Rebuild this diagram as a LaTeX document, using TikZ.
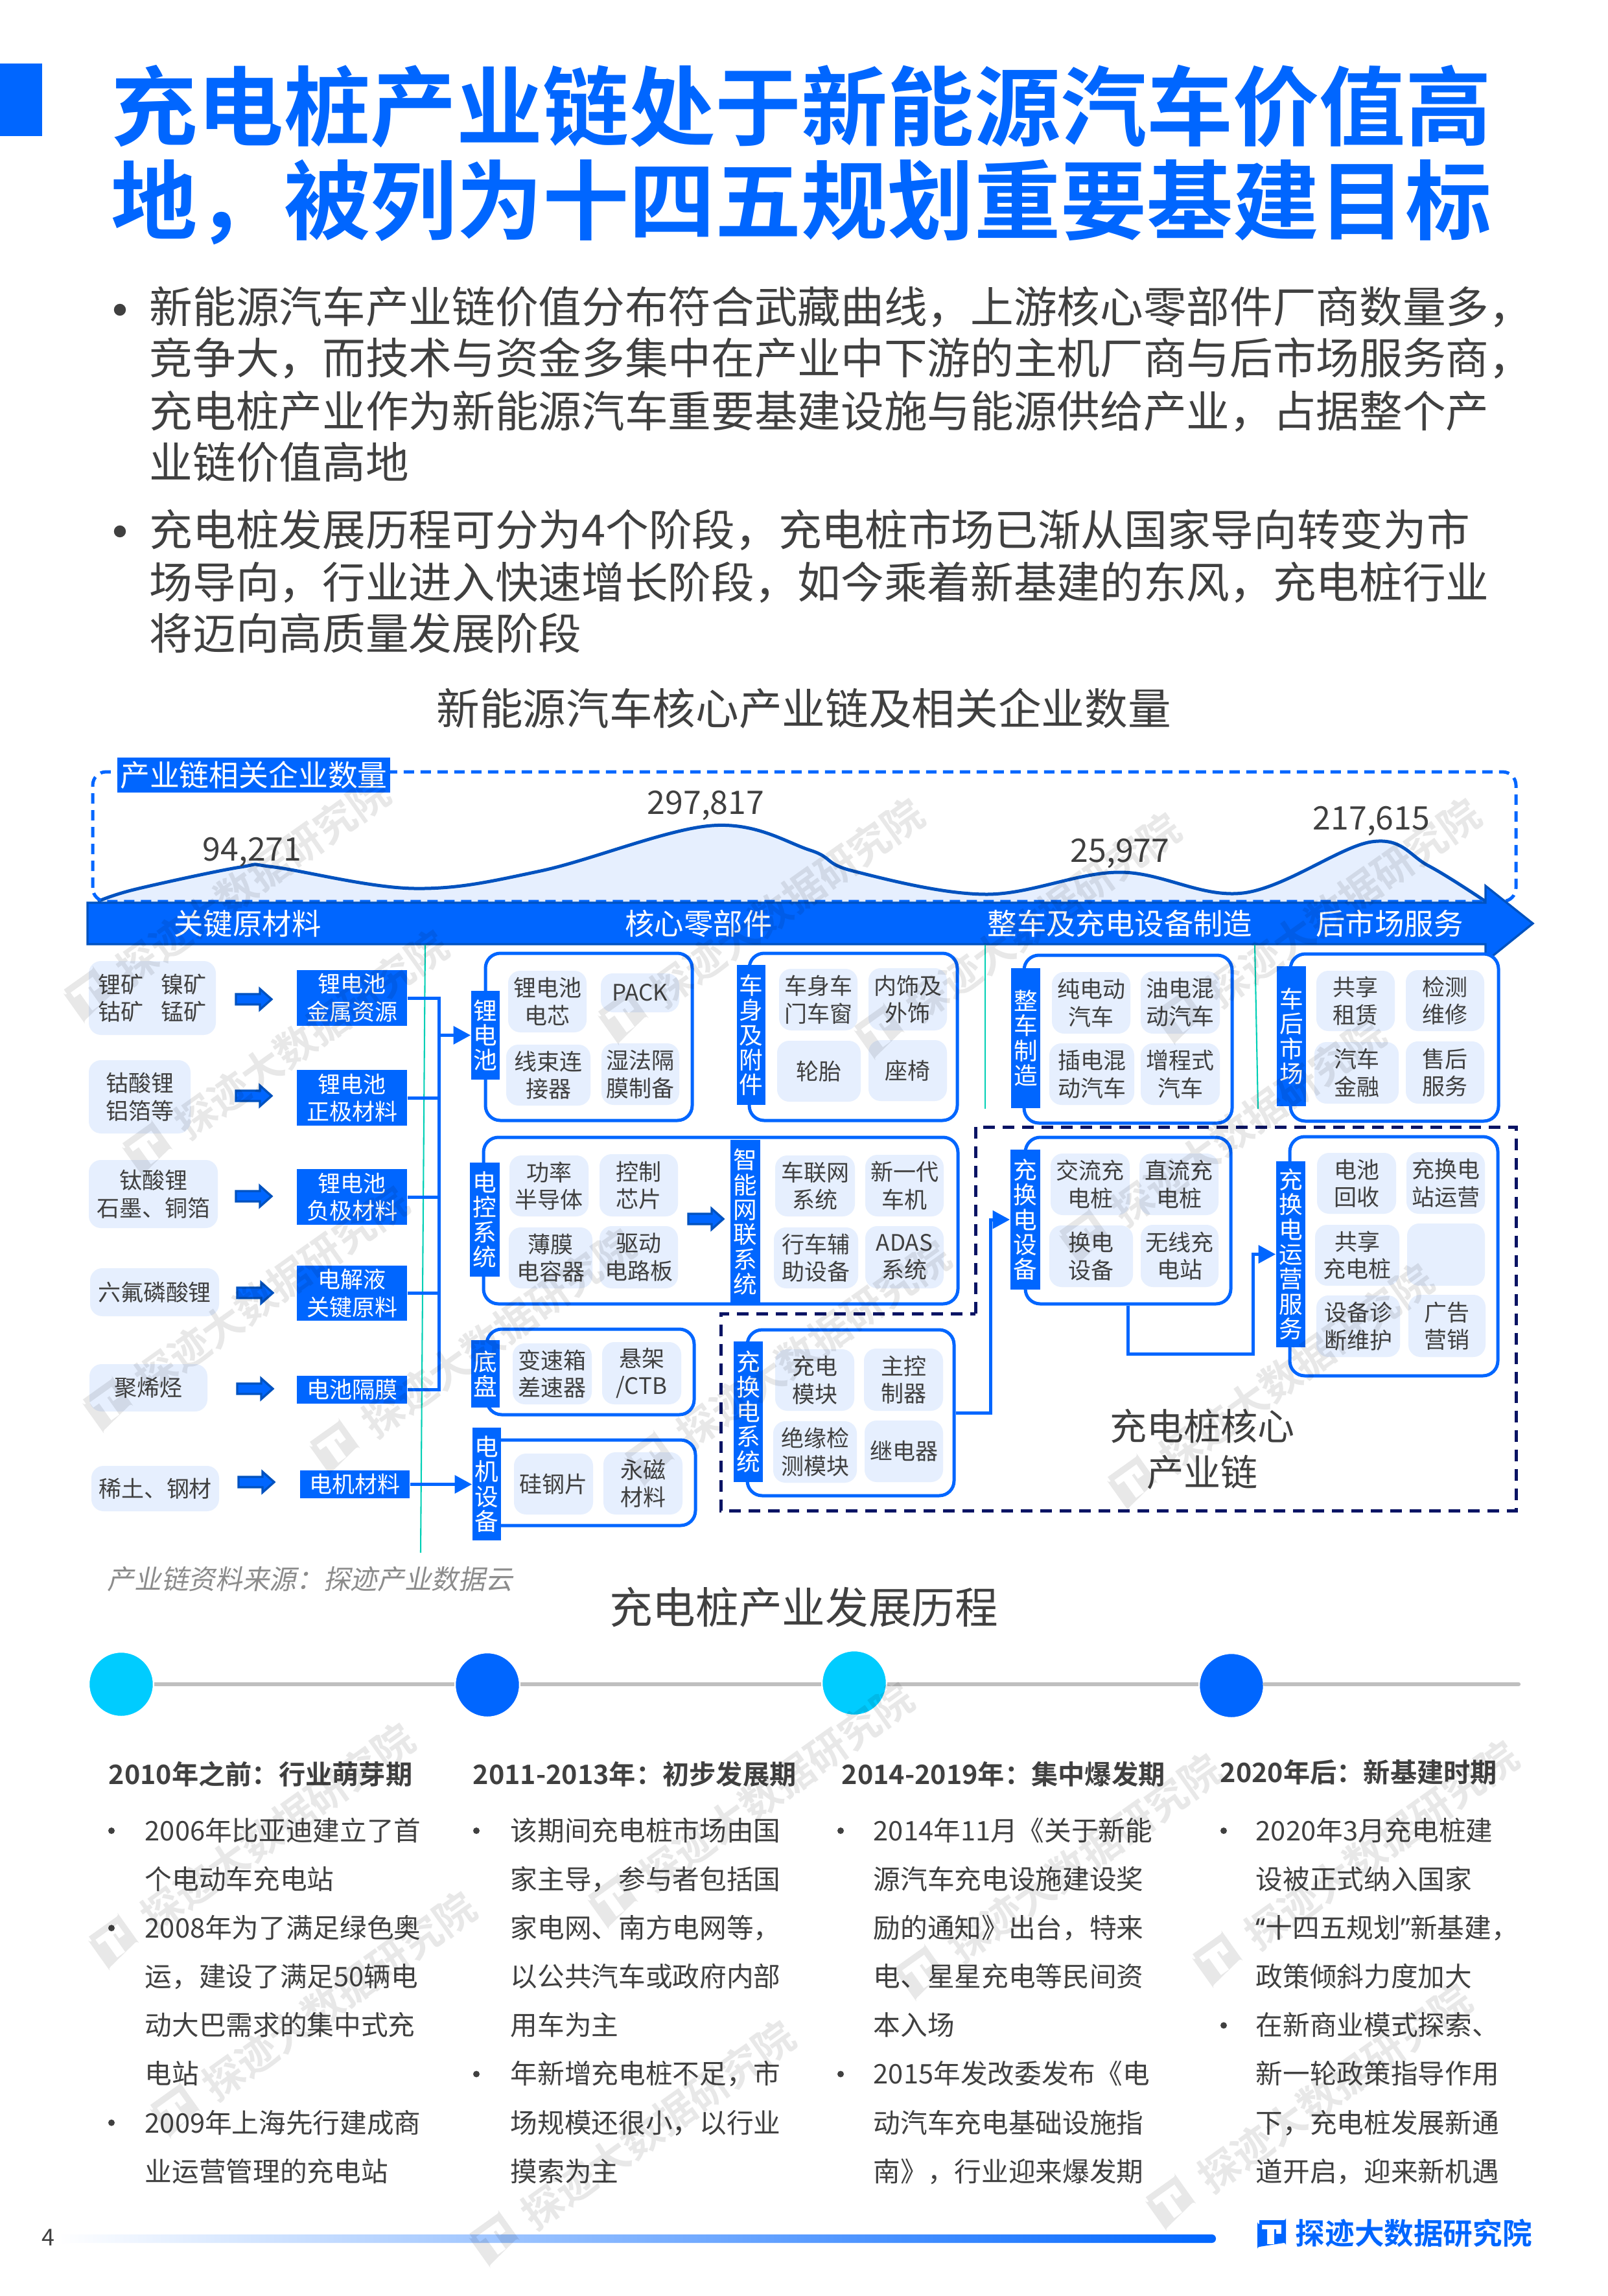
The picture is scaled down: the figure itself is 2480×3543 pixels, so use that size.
\documentclass[tikz,border=0pt]{standalone}
\usepackage{fontspec}
\setmainfont{Noto Sans CJK SC}[BoldFont={Noto Sans CJK SC Bold}]
\newfontfamily\slantfont[FakeSlant=0.2]{Noto Sans CJK SC}
\newfontfamily\latinq{Noto Sans}
\usetikzlibrary{arrows.meta,calc}
\definecolor{blueA}{HTML}{0066FF}
\definecolor{blueD}{HTML}{0052BF}
\definecolor{lightb}{HTML}{E6EFFE}
\definecolor{txt}{HTML}{404040}
\definecolor{navy}{HTML}{0A1464}
\definecolor{tealc}{HTML}{00CFB5}
\definecolor{cyanc}{HTML}{00CCFF}
\tikzset{
 titlet/.style={font=\fontsize{31.95}{36}\selectfont\bfseries,text=blueA,anchor=base west,inner sep=0pt,yshift=-11.7pt},
 bodyt/.style={font=\fontsize{16}{18}\selectfont,text=txt,anchor=base west,inner sep=0pt,yshift=-5.8pt},
 secth/.style={font=\fontsize{16}{18}\selectfont,text=txt,inner sep=0pt},
 numt/.style={font=\fontsize{12}{14}\selectfont,text=txt,inner sep=0pt},
 arrowt/.style={font=\fontsize{10.9}{13}\selectfont,text=white,inner sep=0pt},
 lbox/.style={fill=lightb,rounded corners=4.5pt,font=\fontsize{8.4}{10.2}\selectfont,text=txt,align=center,inner sep=0pt},
 bbox/.style={fill=blueA,font=\fontsize{8.4}{10.2}\selectfont,text=white,align=center,inner sep=0pt},
 grp/.style={draw=blueA,line width=1.2pt,fill=white,rounded corners=5.5pt,inner sep=0pt},
 vlab/.style={fill=blueA,font=\fontsize{8.8}{9.2}\selectfont,text=white,align=center,inner sep=0pt},
 conn/.style={draw=blueA,line width=1.2pt},
 connar/.style={conn,-{Triangle[length=6.4pt,width=6.6pt]}},
 blockar/.style={fill=blueA,draw=blueD,line width=0.8pt,line join=miter},
 colh/.style={font=\fontsize{9.9}{12}\selectfont\bfseries,text=txt,anchor=base west,inner sep=0pt,yshift=-3.7pt},
 colt/.style={font=\fontsize{10}{12}\selectfont,text=txt,anchor=base west,inner sep=0pt,yshift=-3.7pt},
 dotb/.style={circle,fill=txt,inner sep=0pt,minimum size=2.4pt},
 tdot/.style={circle,inner sep=0pt,minimum size=24pt,draw=white,line width=0.6pt},
 wmtext/.style={font=\fontsize{15}{16}\selectfont\bfseries,text=black,text opacity=0.09,anchor=east,inner sep=0pt,transform shape},
}
\newcommand\bx[7]{\node[#1,minimum width={(#4-#3)*0.24pt},minimum height={(#6-#5)*0.24pt}] (#2) at ({(#3+#4)/2},{(#5+#6)/2}) {#7};}
\newcommand\barrow[3]{\draw[blockar] (#1,{#3-8}) -- ({#2-18},{#3-8}) -- ({#2-18},{#3-16}) -- (#2,#3) -- ({#2-18},{#3+16}) -- ({#2-18},{#3+8}) -- (#1,{#3+8}) -- cycle;}
% logo: width 44, height 41 units
\newcommand\logoshape{(3,0) -- (41,0) arc[start angle=90,end angle=0,radius=3] -- (44,38) arc[start angle=0,end angle=-90,radius=3] -- (3,41) arc[start angle=270,end angle=180,radius=3] -- (0,3) arc[start angle=180,end angle=90,radius=3] -- cycle
 (7,7) -- (37,7) -- (37,21) -- (29,21) -- (29,14) -- (26,14) -- (26,37) -- (15,37) -- (15,14) -- (7,14) -- cycle}
\begin{document}
\begin{tikzpicture}[x=0.24pt,y=-0.24pt]
\useasboundingbox (0,0) rectangle (2480,3543);
\fill[white] (0,0) rectangle (2480,3543);
% header
\fill[blueA] (0,98) rectangle (65,210);
\node[titlet] (t1) at (171,166) {充电桩产业链处于新能源汽车价值高};
\node[titlet] (t2) at (171,311) {地，被列为十四五规划重要基建目标};
\node[circle,fill=txt,inner sep=0pt,minimum size=4.4pt] (bu1) at (185,478) {};
\node[circle,fill=txt,inner sep=0pt,minimum size=4.4pt] (bu2) at (185,820) {};
\node[bodyt] (p1) at (230,474) {新能源汽车产业链价值分布符合武藏曲线，上游核心零部件厂商数量多，};
\node[bodyt] (p2) at (230,553) {竞争大，而技术与资金多集中在产业中下游的主机厂商与后市场服务商，};
\node[bodyt] (p3) at (230,635) {充电桩产业作为新能源汽车重要基建设施与能源供给产业，占据整个产};
\node[bodyt] (p4) at (230,714) {业链价值高地};
\node[bodyt] (p5) at (230,818) {充电桩发展历程可分为4个阶段，充电桩市场已渐从国家导向转变为市};
\node[bodyt] (p6) at (230,899) {场导向，行业进入快速增长阶段，如今乘着新基建的东风，充电桩行业};
\node[bodyt] (p7) at (230,978) {将迈向高质量发展阶段};
\node[secth] (s1) at (1240,1093) {新能源汽车核心产业链及相关企业数量};
% mountain
\fill[lightb] plot[smooth,tension=0.6] coordinates {(151,1391) (210,1372) (371,1338) (423,1338) (639,1371) (834,1344) (1098,1274) (1250,1312) (1316,1344) (1521,1380) (1727,1346) (1918,1378) (2116,1299) (2204,1336) (2292,1391)} -- cycle;
\draw[blueD,line width=1.2pt] plot[smooth,tension=0.6] coordinates {(151,1391) (210,1372) (371,1338) (423,1338) (639,1371) (834,1344) (1098,1274) (1250,1312) (1316,1344) (1521,1380) (1727,1346) (1918,1378) (2116,1299) (2204,1336) (2292,1391)};
\draw[blueA,line width=1.2pt,dash pattern=on 3.84pt off 2.4pt,rounded corners=5pt] (143,1391) rectangle (2339,1191);
% big arrow
\draw[fill=blueA,draw=blueD,line width=0.8pt] (135,1393) -- (2292,1393) -- (2292,1367) -- (2365,1425) -- (2292,1484) -- (2292,1457) -- (135,1457) -- cycle;
\bx{bbox,font=\fontsize{11}{13}\selectfont}{lab0}{181}{602}{1169}{1223}{产业链相关企业数量}
\node[numt] (n1) at (389,1315) {94,271};
\node[numt] (n2) at (1089,1243) {297,817};
\node[numt] (n3) at (1728,1317) {25,977};
\node[numt] (n4) at (2116,1267) {217,615};
\node[arrowt] (a1) at (382,1425) {关键原材料};
\node[arrowt] (a2) at (1078,1425) {核心零部件};
\node[arrowt] (a3) at (1728,1425) {整车及充电设备制造};
\node[arrowt] (a4) at (2144,1425) {后市场服务};
% teal lines
\draw[tealc,line width=0.5pt] (656,1458) -- (649,2396);
\draw[tealc,line width=0.5pt] (1520,1458) -- (1520,1711);
\draw[tealc,line width=0.5pt] (1936,1458) -- (1941,1711);
% dashed navy
\draw[navy,line width=1.2pt,dash pattern=on 4.32pt off 2.88pt] (1505,2027) -- (1505,1739) -- (2339,1739) -- (2339,2331) -- (1112,2331) -- (1112,2027) -- cycle;
% left column
\bx{lbox}{m1}{137}{333}{1483}{1597}{锂矿\hspace{6.5pt}镍矿\\钴矿\hspace{6.5pt}锰矿}
\bx{lbox}{m2}{137}{294}{1636}{1749}{钴酸锂\\铝箔等}
\bx{lbox}{m3}{137}{336}{1790}{1895}{钛酸锂\\石墨、铜箔}
\bx{lbox}{m4}{139}{338}{1957}{2031}{六氟磷酸锂}
\bx{lbox}{m5}{138}{320}{2105}{2178}{聚烯烃}
\bx{lbox}{m6}{141}{338}{2262}{2332}{稀土、钢材}
\barrow{364}{419}{1542}
\barrow{364}{419}{1691}
\barrow{364}{419}{1846}
\barrow{366}{421}{1995}
\barrow{366}{421}{2143}
\barrow{368}{423}{2287}
\bx{bbox}{b1}{458}{628}{1497}{1583}{锂电池\\金属资源}
\bx{bbox}{b2}{458}{628}{1651}{1737}{锂电池\\正极材料}
\bx{bbox}{b3}{458}{628}{1804}{1890}{锂电池\\负极材料}
\bx{bbox}{b4}{458}{628}{1953}{2038}{电解液\\关键原料}
\bx{bbox}{b5}{458}{628}{2123}{2166}{电池隔膜}
\bx{bbox}{b6}{463}{632}{2269}{2312}{电机材料}
% groups
\bx{grp}{g1}{749}{1068}{1471}{1729}{}
\bx{grp}{g2}{1156}{1477}{1471}{1729}{}
\bx{grp}{g3}{1580}{1901}{1474}{1733}{}
\bx{grp}{g4}{1991}{2312}{1472}{1730}{}
\bx{grp}{g5}{746}{1478}{1755}{2012}{}
\bx{grp}{g6}{751}{1071}{2051}{2183}{}
\bx{grp}{g7}{745}{1073}{2222}{2354}{}
\bx{grp}{g8}{1153}{1472}{2052}{2308}{}
\bx{grp}{g9}{1582}{1899}{1755}{2012}{}
\bx{grp}{g10}{1990}{2311}{1754}{2123}{}
% vertical labels
\bx{vlab}{lbat}{727}{771}{1529}{1666}{锂\\电\\池}
\bx{vlab}{lbody}{1137}{1181}{1489}{1705}{车\\身\\及\\附\\件}
\bx{vlab}{lveh}{1560}{1605}{1494}{1710}{整\\车\\制\\造}
\bx{vlab}{lafter}{1970}{2015}{1491}{1707}{车\\后\\市\\场}
\bx{vlab}{lctrl}{725}{771}{1794}{1970}{电\\控\\系\\统}
\bx{vlab}{lsmart}{1127}{1173}{1759}{2012}{智\\能\\网\\联\\系\\统}
\bx{vlab}{lchas}{727}{771}{2068}{2172}{底\\盘}
\bx{vlab}{lmot}{729}{773}{2203}{2377}{电\\机\\设\\备}
\bx{vlab}{lsys}{1132}{1177}{2070}{2287}{充\\换\\电\\系\\统}
\bx{vlab}{lcd}{1559}{1605}{1774}{1990}{充\\换\\电\\设\\备}
\bx{vlab}{lops}{1969}{2014}{1792}{2079}{充\\换\\电\\运\\营\\服\\务}
% connectors
\coordinate (bj) at (677,1597.5);
\draw[conn] (b1.east) -| (bj);
\draw[conn] (b2.east) -| (bj);
\draw[conn] (b3.east) -| (bj);
\draw[conn] (b4.east) -| (bj);
\draw[conn] (b5.east) -| (bj);
\draw[connar] (bj) -- (lbat.west);
\draw[connar] (b6.east) -- (lmot.west |- b6.east);
\draw[connar] (g8.east) -- ++(54,0) |- (lcd.west);
\draw[connar] (g9.south) -- ++(0,75) -- ++(193,0) |- (lops.west);
\barrow{1062}{1116}{1881}
% inner boxes
\bx{lbox}{i11}{784}{905}{1498}{1593}{锂电池\\电芯}
\bx{lbox}{i12}{927}{1048}{1502}{1562}{PACK}
\bx{lbox}{i13}{781}{911}{1612}{1706}{线束连\\接器}
\bx{lbox}{i14}{928}{1048}{1610}{1705}{湿法隔\\膜制备}
\bx{lbox}{i21}{1202}{1323}{1495}{1590}{车身车\\门车窗}
\bx{lbox}{i22}{1340}{1461}{1494}{1590}{内饰及\\外饰}
\bx{lbox}{i23}{1199}{1328}{1606}{1700}{轮胎}
\bx{lbox}{i24}{1340}{1461}{1605}{1699}{座椅}
\bx{lbox}{i31}{1623}{1744}{1500}{1595}{纯电动\\汽车}
\bx{lbox}{i32}{1760}{1882}{1499}{1595}{油电混\\动汽车}
\bx{lbox}{i33}{1619}{1750}{1610}{1705}{插电混\\动汽车}
\bx{lbox}{i34}{1760}{1882}{1610}{1705}{增程式\\汽车}
\bx{lbox}{i41}{2031}{2152}{1498}{1591}{共享\\租赁}
\bx{lbox}{i42}{2169}{2290}{1497}{1591}{检测\\维修}
\bx{lbox}{i43}{2028}{2158}{1608}{1703}{汽车\\金融}
\bx{lbox}{i44}{2169}{2290}{1607}{1703}{售后\\服务}
\bx{lbox}{i51}{786}{908}{1783}{1877}{功率\\半导体}
\bx{lbox}{i52}{925}{1046}{1781}{1877}{控制\\芯片}
\bx{lbox}{i53}{785}{914}{1894}{1988}{薄膜\\电容器}
\bx{lbox}{i54}{925}{1046}{1892}{1988}{驱动\\电路板}
\bx{lbox}{i55}{1196}{1319}{1783}{1877}{车联网\\系统}
\bx{lbox}{i56}{1335}{1456}{1782}{1877}{新一代\\车机}
\bx{lbox}{i57}{1194}{1324}{1894}{1988}{行车辅\\助设备}
\bx{lbox}{i58}{1335}{1456}{1892}{1988}{ADAS\\系统}
\bx{lbox}{i61}{791}{913}{2073}{2167}{变速箱\\差速器}
\bx{lbox}{i62}{929}{1051}{2071}{2167}{悬架\\/CTB}
\bx{lbox}{i71}{793}{915}{2243}{2337}{硅钢片}
\bx{lbox}{i72}{931}{1053}{2241}{2337}{永磁\\材料}
\bx{lbox}{i81}{1196}{1318}{2082}{2177}{充电\\模块}
\bx{lbox}{i82}{1333}{1455}{2081}{2177}{主控\\制器}
\bx{lbox}{i83}{1193}{1322}{2193}{2288}{绝缘检\\测模块}
\bx{lbox}{i84}{1334}{1455}{2192}{2287}{继电器}
\bx{lbox}{i91}{1621}{1743}{1780}{1875}{交流充\\电桩}
\bx{lbox}{i92}{1758}{1880}{1780}{1875}{直流充\\电桩}
\bx{lbox}{i93}{1619}{1748}{1891}{1986}{换电\\设备}
\bx{lbox}{i94}{1760}{1880}{1890}{1986}{无线充\\电站}
\bx{lbox}{ia1}{2032}{2154}{1779}{1873}{电池\\回收}
\bx{lbox}{ia2}{2170}{2291}{1778}{1873}{充换电\\站运营}
\bx{lbox}{ia3}{2029}{2159}{1890}{1984}{共享\\充电桩}
\bx{lbox}{ia4}{2171}{2291}{1888}{1984}{}
\bx{lbox}{ia5}{2031}{2160}{1999}{2094}{设备诊\\断维护}
\bx{lbox}{ia6}{2173}{2292}{1998}{2094}{广告\\营销}
\node[font=\fontsize{13.7}{17}\selectfont,text=txt,align=center,inner sep=0pt] (core) at (1855,2236) {充电桩核心\\产业链};
\node[font=\fontsize{10}{12}\selectfont\slantfont,text=black!45,anchor=west,inner sep=0pt] (src) at (165,2437) {产业链资料来源：探迹产业数据云};
% timeline
\node[secth] (s2) at (1240,2480) {充电桩产业发展历程};
\node[tdot,fill=cyanc] (c1) at (187,2599) {};
\node[tdot,fill=blueA] (c2) at (752,2600) {};
\node[tdot,fill=cyanc] (c3) at (1318,2597) {};
\node[tdot,fill=blueA] (c4) at (1900,2601) {};
\coordinate (tend) at (2343,2599);
\draw[black!25,line width=1.5pt] (c1.east |- 0,2599) -- (c2.west |- 0,2599);
\draw[black!25,line width=1.5pt] (c2.east |- 0,2599) -- (c3.west |- 0,2599);
\draw[black!25,line width=1.5pt] (c3.east |- 0,2599) -- (c4.west |- 0,2599);
\draw[black!25,line width=1.5pt,line cap=round] (c4.east |- 0,2599) -- (tend);
\node[colh] (h1) at (167,2738) {2010年之前：行业萌芽期};
\node[colh] (h2) at (729,2738) {2011-2013年：初步发展期};
\node[colh] (h3) at (1298,2738) {2014-2019年：集中爆发期};
\node[colh] (h4) at (1882,2735) {2020年后：新基建时期};
\foreach \ttxt [count=\i] in {2006年比亚迪建立了首,个电动车充电站,2008年为了满足绿色奥,运，建设了满足50辆电,动大巴需求的集中式充,电站,2009年上海先行建成商,业运营管理的充电站}
 \node[colt] (ca\i) at (223,{2825+75.1*(\i-1)}) {\ttxt};
\foreach \ttxt [count=\i] in {该期间充电桩市场由国,家主导，参与者包括国,家电网、南方电网等，,以公共汽车或政府内部,用车为主,年新增充电桩不足，市,场规模还很小，以行业,摸索为主}
 \node[colt] (cb\i) at (787,{2825+75.1*(\i-1)}) {\ttxt};
\foreach \ttxt [count=\i] in {2014年11月《关于新能,源汽车充电设施建设奖,励的通知》出台，特来,电、星星充电等民间资,本入场,2015年发改委发布《电,动汽车充电基础设施指,南》，行业迎来爆发期}
 \node[colt] (cc\i) at (1347,{2825+75.1*(\i-1)}) {\ttxt};
\foreach \ttxt [count=\i] in {2020年3月充电桩建,设被正式纳入国家,{\latinq “}十四五规划{\latinq ”}新基建，,政策倾斜力度加大,在新商业模式探索、,新一轮政策指导作用,下，充电桩发展新通,道开启，迎来新机遇}
 \node[colt] (cd\i) at (1937,{2825+75.1*(\i-1)}) {\ttxt};
\foreach \k in {0,2,6} \node[dotb] (da\k) at (172,{2825+75.1*\k}) {};
\foreach \k in {0,5} \node[dotb] (db\k) at (735,{2825+75.1*\k}) {};
\foreach \k in {0,5} \node[dotb] (dc\k) at (1297,{2825+75.1*\k}) {};
\foreach \k in {0,4} \node[dotb] (dd\k) at (1888,{2825+75.1*\k}) {};
% footer
\node[font=\fontsize{8.6}{10}\selectfont,text=txt,inner sep=0pt] (pg) at (74,3453) {4};
\shade[left color=white,right color=blueA,rounded corners=1.5pt] (90,3448) rectangle (1876,3461);
\fill[blueA,even odd rule,shift={(1940,3426)}] \logoshape;
\node[font=\fontsize{10.95}{12}\selectfont\bfseries,text=blueA,anchor=west,inner sep=0pt] (brand) at (1998,3446) {探迹大数据研究院};
% watermarks
\foreach \ex/\ey [count=\i] in {263/537,303/642,628/552,803/562,1008/552,943/702,976/870,431/846,276/817,646/854,280/1184,322/1299,540/1387,621/1156,831/1205,1034/1196,1002/1362}{
 \begin{scope}[shift={({\ex*2.2587},{\ey*2.2587})},rotate=35.5]
  \node[wmtext] (wm\i) at (0,0) {探迹大数据研究院};
  \fill[black,opacity=0.09,even odd rule,shift={(-590,-32)},scale=1.4] \logoshape;
 \end{scope}
}
\end{tikzpicture}
\end{document}
